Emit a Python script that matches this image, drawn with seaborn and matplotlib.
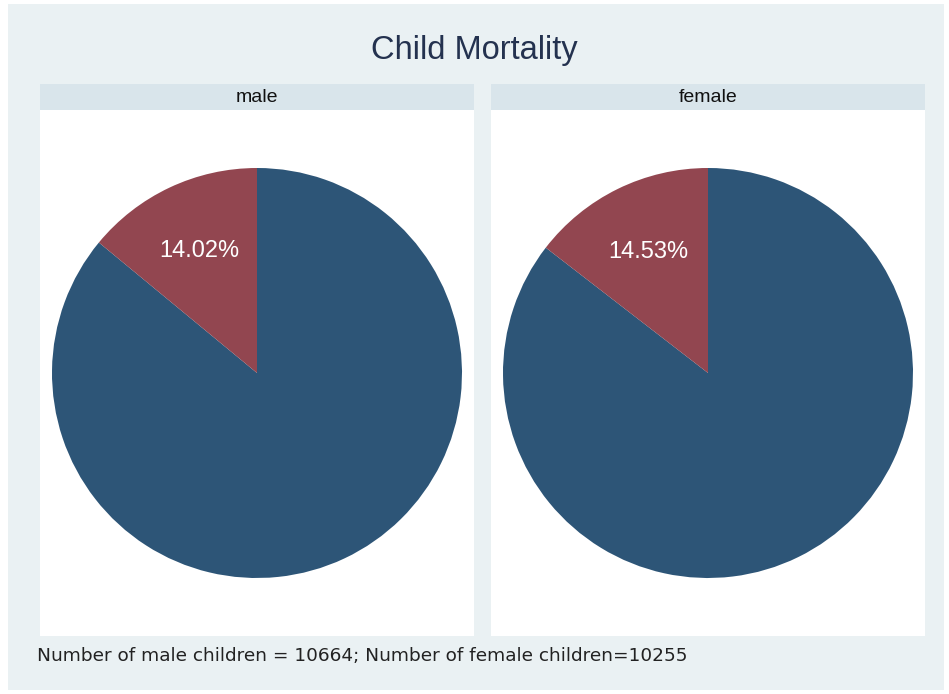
import matplotlib
matplotlib.use("Agg")
import matplotlib.pyplot as plt
import seaborn as sns
import numpy as np
from matplotlib.patches import Rectangle

sns.set_theme(style="white")
plt.rcParams['font.family'] = ['Liberation Sans', 'DejaVu Sans']

# data
panels = ["male", "female"]
died_pct = [14.02, 14.53]
survived_pct = [100 - p for p in died_pct]
n_male = 10664
n_female = 10255

colors = ["#2d5577", "#924650"]
bg = "#eaf1f3"
strip = "#d9e5eb"

W, H = 949, 694
fig = plt.figure(figsize=(W / 100, H / 100), dpi=100)
fig.patch.set_facecolor("white")
fig.patches.append(Rectangle((8 / W, 4 / H), 936 / W, 686 / H, transform=fig.transFigure,
                             facecolor=bg, edgecolor="none", zorder=-10))

fig.text(0.5, 1 - 50 / H, "Child Mortality", ha="center", va="center",
         fontsize=23.5, color="#24324f")

lefts = [40, 491]
width = 434
top, bottom = 110, 636
for i, name in enumerate(panels):
    x0 = lefts[i]
    # strip label box
    sax = fig.add_axes([x0 / W, 1 - top / H, width / W, 26 / H])
    sax.set_facecolor(strip)
    sax.set_xticks([])
    sax.set_yticks([])
    for s in sax.spines.values():
        s.set_visible(False)
    sax.text(0.5, 0.5, name, ha="center", va="center", fontsize=14, color="#111111",
             transform=sax.transAxes)

    ax = fig.add_axes([x0 / W, 1 - bottom / H, width / W, (bottom - top) / H])
    ax.set_facecolor("white")
    ax.pie([survived_pct[i], died_pct[i]], colors=colors, startangle=90,
           counterclock=False, radius=1.0, wedgeprops=dict(linewidth=0))
    ang = 90 + died_pct[i] / 100 * 360 / 2
    r = 0.66
    ax.text(r * np.cos(np.radians(ang)), r * np.sin(np.radians(ang)), f"{died_pct[i]:.2f}%",
            ha="center", va="center", color="white", fontsize=17)
    rad_px = 205
    ax.set_aspect("auto")
    ax.set_xlim(-width / 2 / rad_px, width / 2 / rad_px)
    ax.set_ylim(-(bottom - top) / 2 / rad_px, (bottom - top) / 2 / rad_px)
    ax.set_frame_on(True)
    for s in ax.spines.values():
        s.set_visible(False)

fig.text(37 / W, 1 - 656 / H,
         f"Number of male children = {n_male}; Number of female children={n_female}",
         ha="left", va="center", fontsize=13.3, color="#222222", family="DejaVu Sans")

fig.savefig("out.png", dpi=100, facecolor=fig.get_facecolor())
